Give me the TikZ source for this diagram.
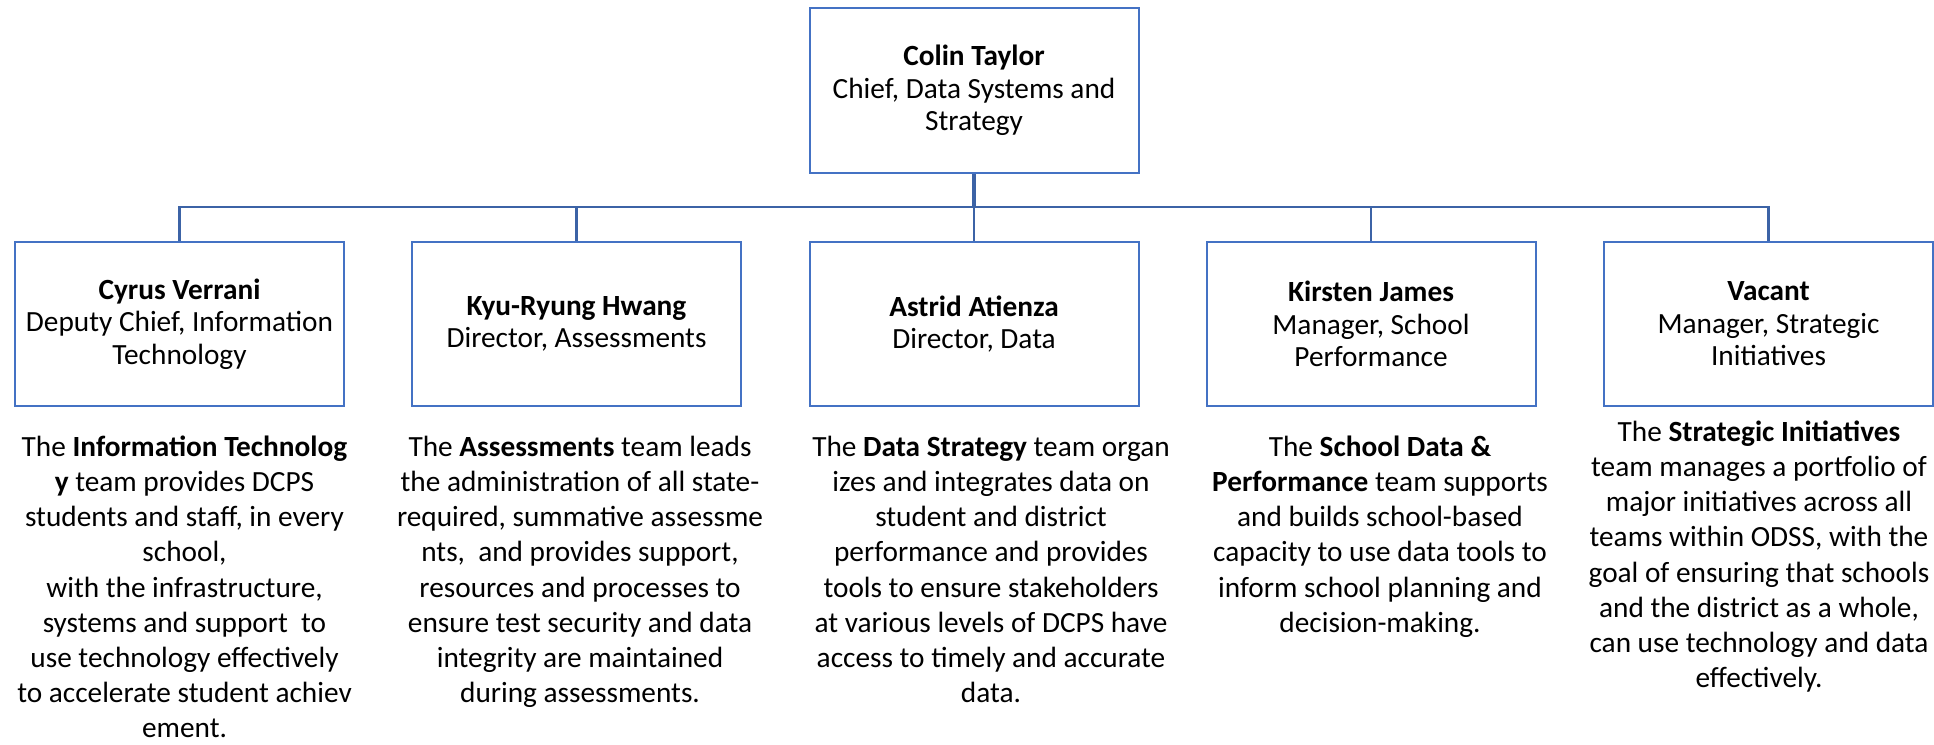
\documentclass[tikz,border=0pt]{standalone}
\usepackage{fontspec}
\setmainfont{Carlito}
\definecolor{boxblue}{HTML}{4472C4}
\definecolor{lineblue}{HTML}{3C63A6}
\begin{document}
\begin{tikzpicture}[x=1pt,y=1pt,
  person/.style={draw=boxblue, line width=2pt, minimum width=329pt, minimum height=164pt,
    inner sep=0pt, align=center, font=\fontsize{29.3}{32.5}\selectfont},
  desc/.style={align=center, inner sep=0pt, anchor=north, font=\fontsize{29.3}{35.2}\selectfont},
  link/.style={draw=lineblue, line width=2.6pt}]
\useasboundingbox (0,0) rectangle (1934,-744);
\fill[white] (0,0) rectangle (1934,-744);

\node[person, minimum height=165pt] (top) at (974,-90.5) {\textbf{Colin Taylor}\\Chief, Data Systems and\\Strategy};

\node[person] (c1) at (179.5,-324) {\textbf{Cyrus Verrani}\\Deputy Chief, Information\\Technology};
\node[person] (c2) at (576.5,-324) {\textbf{Kyu-Ryung Hwang}\\Director, Assessments};
\node[person] (c3) at (974,-324) {\textbf{Astrid Atienza}\\Director, Data};
\node[person] (c4) at (1371,-324) {\textbf{Kirsten James}\\Manager, School\\Performance};
\node[person] (c5) at (1768.5,-324) {\textbf{Vacant}\\Manager, Strategic\\Initiatives};

\coordinate (bus) at (974,-207);
\draw[link, line width=4pt] (top.south) -- (bus);
\draw[link] (c1.north) |- (bus);
\draw[link] (c2.north) |- (bus);
\draw[link, line width=2pt] (c3.north) -- (bus);
\draw[link] (c4.north) |- (bus);
\draw[link] (c5.north) |- (bus);

\node[desc] (t1) at (184.5,-431.4) {\strut The \textbf{Information Technolog}\\\textbf{y} team provides DCPS\\students and staff, in every\\school,\\with the infrastructure,\\systems and support\ \ to\\use technology effectively\\to accelerate student achiev\\ement.};
\node[desc] (t2) at (580,-431.4) {\strut The \textbf{Assessments} team leads\\the administration of all state-\\required, summative assessme\\nts,\ \ and provides support,\\resources and processes to\\ensure test security and data\\integrity are maintained\\during assessments.};
\node[desc] (t3) at (991,-431.4) {\strut The \textbf{Data Strategy} team organ\\izes and integrates data on\\student and district\\performance and provides\\tools to ensure stakeholders\\at various levels of DCPS have\\access to timely and accurate\\data.};
\node[desc] (t4) at (1380,-431.4) {\strut The \textbf{School Data \&}\\\textbf{Performance} team supports\\and builds school-based\\capacity to use data tools to\\inform school planning and\\decision-making.};
\node[desc] (t5) at (1759,-416.4) {\strut The \textbf{Strategic Initiatives}\\team manages a portfolio of\\major initiatives across all\\teams within ODSS, with the\\goal of ensuring that schools\\and the district as a whole,\\can use technology and data\\effectively.};
\end{tikzpicture}
\end{document}
